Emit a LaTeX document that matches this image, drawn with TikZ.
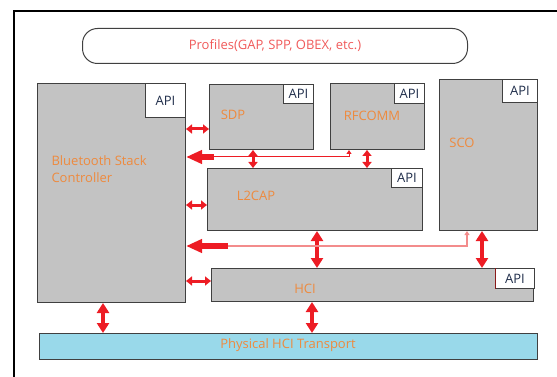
\documentclass[tikz,border=0pt]{standalone}
\usepackage{fontspec}
\setmainfont{Open Sans}
\usepackage{xcolor}
\definecolor{boxGray}{HTML}{C3C3C3}
\definecolor{boxLine}{HTML}{404040}
\definecolor{apiBlue}{HTML}{1F2D4A}
\definecolor{lblOrange}{HTML}{EE8A3E}
\definecolor{profRed}{HTML}{F05A5A}
\definecolor{arrRed}{HTML}{ED1C24}
\definecolor{wirePink}{HTML}{F38C8C}
\definecolor{phyBlue}{HTML}{99D9EA}
\definecolor{apiEdge}{HTML}{8B1A1A}
\usetikzlibrary{arrows.meta}

\begin{document}
\begin{tikzpicture}[x=1pt, y=-1pt,
  every node/.style={font=\fontsize{13}{17}\selectfont},
  block/.style={draw=boxLine, fill=boxGray, line width=1pt, anchor=north west, inner sep=0pt},
  api/.style={draw=boxLine, fill=white, line width=1pt, anchor=north west, inner sep=0pt, text=apiBlue},
  lbl/.style={text=lblOrange},
  link/.style={draw=arrRed, line width=3pt, {Triangle[width=9pt,length=6pt]}-{Triangle[width=9pt,length=6pt]}},
  bus/.style={draw=arrRed, line width=4.5pt, {Triangle[width=12pt,length=10pt]}-{Triangle[width=12pt,length=10pt]}},
  feed/.style={draw=arrRed, line width=5.5pt, -{Triangle[width=13pt,length=16pt]}},
  wire/.style={draw=arrRed, line width=1pt, -{Triangle[width=5pt,length=4pt]}}
]
\useasboundingbox (0,0) rectangle (557,377);
\draw[line width=2.5pt] (14,380) |- (560,11);

\node[draw=boxLine, line width=1pt, rounded corners=15pt, minimum width=385pt, minimum height=35pt,
      anchor=north west, text=profRed] (prof) at (82,28) {Profiles(GAP, SPP, OBEX, etc.)};

\node[block, minimum width=148pt, minimum height=219pt] (bsc) at (37,83) {};
\node[api, minimum width=40pt, minimum height=34pt] (bscApi) at (145,83) {API};
\node[block, minimum width=104pt, minimum height=65pt] (sdp) at (209,84) {};
\node[api, minimum width=30pt, minimum height=19pt] (sdpApi) at (283,84) {API};
\node[block, minimum width=94pt, minimum height=66pt] (rfcomm) at (330,83) {};
\node[api, minimum width=30pt, minimum height=20pt] (rfcommApi) at (394,83) {API};
\node[block, minimum width=98pt, minimum height=151pt] (sco) at (439,79) {};
\node[api, minimum width=35pt, minimum height=23pt] (scoApi) at (502,79) {API};
\node[block, minimum width=215pt, minimum height=62pt] (l2cap) at (207,168) {};
\node[api, minimum width=31pt, minimum height=19pt] (l2capApi) at (391,168) {API};
\node[block, minimum width=322pt, minimum height=33pt] (hci) at (211,268) {};
\node[api, minimum width=39pt, minimum height=20pt] (hciApi) at (495,268) {API};
\draw[apiEdge, line width=1pt] (hciApi.north west) -- (hciApi.south west);
\node[block, fill=phyBlue, minimum width=498pt, minimum height=26pt] (phy) at (39,333) {};

\node[lbl, anchor=west, align=left] at (48,169) {Bluetooth Stack\\Controller};
\node[lbl] at (233,115) {SDP};
\node[lbl] at (372,116) {RFCOMM};
\node[lbl] at (462,143) {SCO};
\node[lbl] at (256,196) {L2CAP};
\node[lbl] at (305,289) {HCI};
\node[lbl] at (288,345) {Physical HCI Transport};

\draw[link] (bsc.east |- 0,129) -- (sdp.west |- 0,129);
\draw[link] (bsc.east |- 0,205) -- (l2cap.west |- 0,205);
\draw[link] (bsc.east |- 0,281) -- (hci.west |- 0,281);
\draw[link] (sdp.south -| 253,0) -- (l2cap.north -| 253,0);
\draw[link] (rfcomm.south -| 367,0) -- (l2cap.north -| 367,0);
\draw[bus] (l2cap.south -| 317,0) -- (hci.north -| 317,0);
\draw[bus] (sco.south -| 482,0) -- (hci.north -| 482,0);
\draw[bus] (bsc.south -| 103,0) -- (phy.north -| 103,0);
\draw[bus] (hci.south -| 312,0) -- (phy.north -| 312,0);

\coordinate (rfTap) at (214,157);
\draw[wire] (rfTap) -| (rfcomm.south -| 349,0);
\draw[feed] (rfTap) -- (bsc.east |- rfTap);
\coordinate (scoTap) at (228,246);
\draw[wire, draw=wirePink, line width=1.5pt] (scoTap) -| (sco.south -| 467,0);
\draw[feed] (scoTap) -- (bsc.east |- scoTap);
\end{tikzpicture}
\end{document}
